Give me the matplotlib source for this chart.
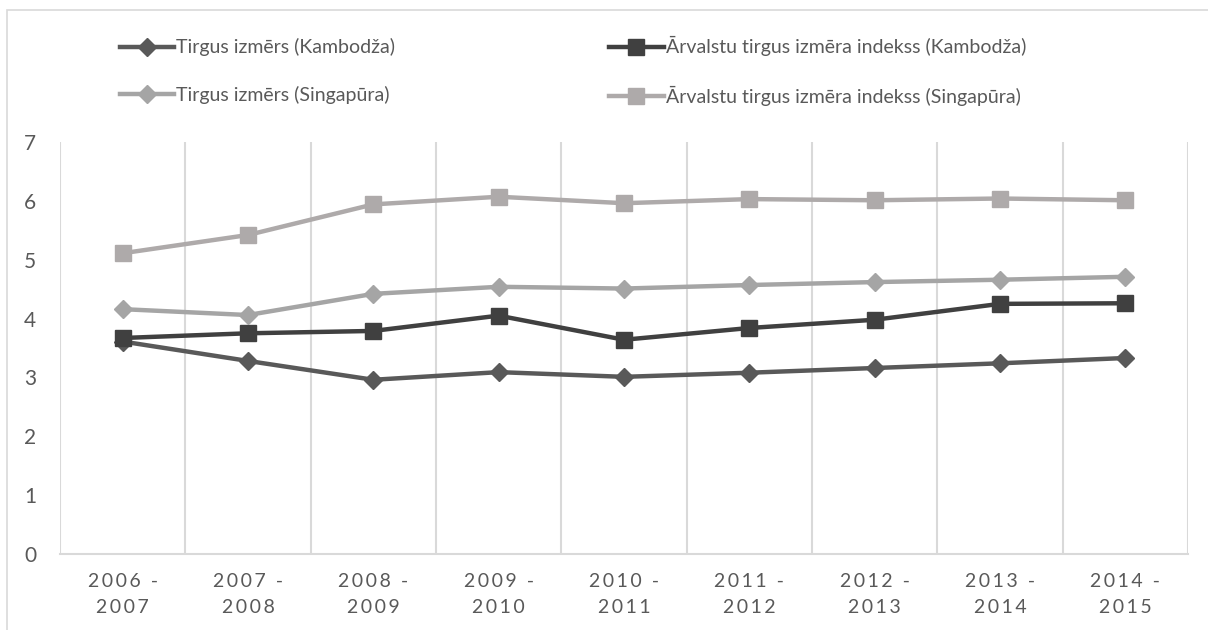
#!/usr/bin/env python3

import numpy as np
import matplotlib
matplotlib.use("Agg")
import matplotlib.pyplot as plt
from matplotlib.patches import Rectangle

plt.rcParams["font.family"] = ["Lato", "DejaVu Sans"]

# Category labels (two lines each, as in the original)
CATEGORIES = ["2006 -\n2007", "2007 -\n2008", "2008 -\n2009", "2009 -\n2010",
              "2010 -\n2011", "2011 -\n2012", "2012 -\n2013", "2013 -\n2014",
              "2014 -\n2015"]

# Series values
KAMB_SIZE = [3.61, 3.28, 2.96, 3.09, 3.01, 3.08, 3.16, 3.24, 3.33]
KAMB_FOREIGN = [3.67, 3.75, 3.79, 4.05, 3.64, 3.84, 3.98, 4.25, 4.26]
SING_SIZE = [4.16, 4.06, 4.42, 4.54, 4.51, 4.57, 4.62, 4.66, 4.71]
SING_FOREIGN = [5.11, 5.42, 5.94, 6.07, 5.96, 6.03, 6.01, 6.04, 6.01]

LABELS = ["Tirgus izmērs (Kambodža)",
          "Ārvalstu tirgus izmēra indekss (Kambodža)",
          "Tirgus izmērs (Singapūra)",
          "Ārvalstu tirgus izmēra indekss (Singapūra)"]

TEXT_COLOR = "#595959"
GRID_COLOR = "#D9D9D9"


def spaced(label):
    """Mimic the wide character spacing of the category labels."""
    return "\n".join("\u2009".join(line) for line in label.split("\n"))


def main():
    fig = plt.figure(figsize=(12.08, 6.3), dpi=100)

    # Light outer border of the chart area (runs off the right and bottom)
    fig.patches.append(Rectangle((7 / 1208, -0.1), 1.2, 1 - 10 / 630 + 0.1,
                                 transform=fig.transFigure, fill=False,
                                 edgecolor=GRID_COLOR, linewidth=1.2))

    ax = fig.add_axes([60 / 1208, 76 / 630, 1128 / 1208, 412 / 630])
    x = np.arange(len(CATEGORIES))

    lw = 3.2
    ax.plot(x, KAMB_SIZE, color="#595959", lw=lw, marker="D", ms=9.5,
            label=LABELS[0], zorder=3)
    ax.plot(x, KAMB_FOREIGN, color="#404040", lw=lw, marker="s", ms=12,
            label=LABELS[1], zorder=3)
    ax.plot(x, SING_SIZE, color="#A5A5A5", lw=lw, marker="D", ms=9.5,
            label=LABELS[2], zorder=3)
    ax.plot(x, SING_FOREIGN, color="#AEAAAA", lw=lw, marker="s", ms=12,
            label=LABELS[3], zorder=3)

    ax.set_xlim(-0.5, len(CATEGORIES) - 0.5)
    ax.set_ylim(0, 7)
    ax.set_yticks(range(0, 8))
    ax.set_xticks(x)
    ax.set_xticklabels([spaced(c) for c in CATEGORIES], linespacing=1.6)
    ax.set_xticks(np.arange(len(CATEGORIES) + 1) - 0.5, minor=True)
    ax.grid(True, which="minor", axis="x", color=GRID_COLOR, lw=1.5)
    ax.tick_params(which="both", length=0)
    ax.tick_params(axis="y", labelsize=15, labelcolor=TEXT_COLOR, pad=17)
    ax.tick_params(axis="x", labelsize=14, labelcolor=TEXT_COLOR, pad=14)

    for side in ("left", "right", "top"):
        ax.spines[side].set_visible(False)
    ax.spines["bottom"].set_color(GRID_COLOR)
    ax.spines["bottom"].set_linewidth(1.5)

    # Excel-style legend is row-major; matplotlib fills columns first
    handles, labels = ax.get_legend_handles_labels()
    order = [0, 2, 1, 3]
    fig.legend([handles[i] for i in order], [labels[i] for i in order],
               ncol=2, loc="center", bbox_to_anchor=(573 / 1208, 1 - 71 / 630),
               frameon=False, fontsize=14, labelcolor=TEXT_COLOR,
               handlelength=2.8, handletextpad=0.1, columnspacing=11,
               labelspacing=1.5, borderpad=0)

    fig.savefig("out.png", dpi=100)


if __name__ == "__main__":

    main()
